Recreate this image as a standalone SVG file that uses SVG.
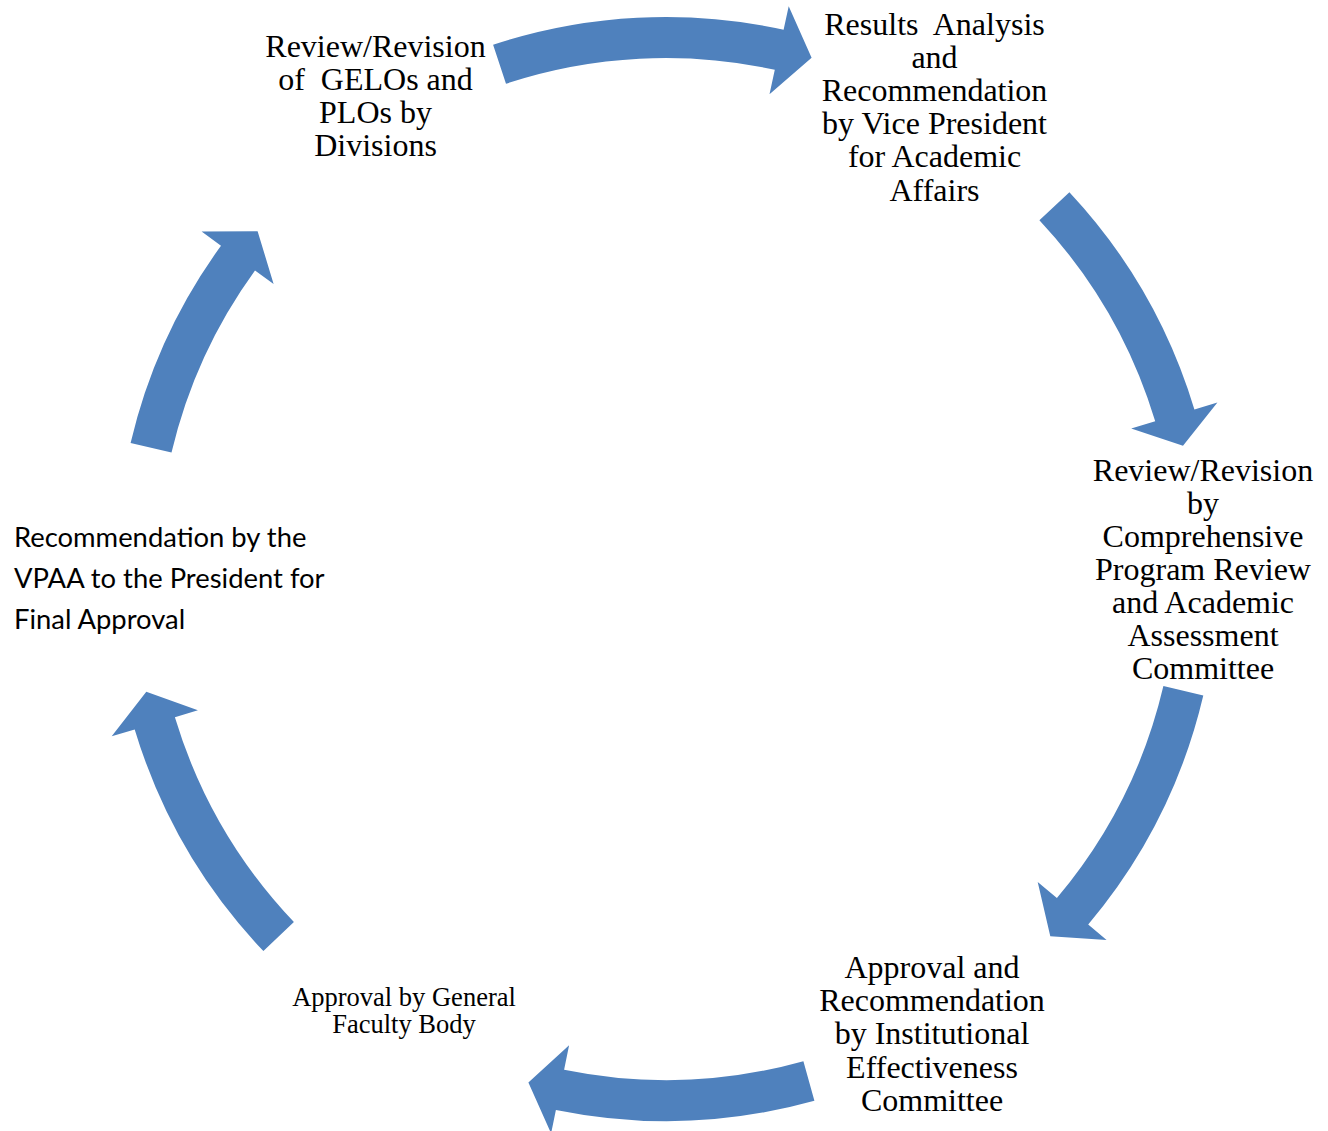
<svg xmlns="http://www.w3.org/2000/svg" width="1328" height="1131" viewBox="0 0 1328 1131">
<style>
.arr{fill:#4F81BD;stroke:none}
.t{font-family:"Liberation Serif","Times New Roman",serif;font-size:32px;fill:#000;text-anchor:middle}
.s{font-family:"Liberation Serif","Times New Roman",serif;font-size:26.5px;fill:#000;text-anchor:middle}
.c{font-family:Lato,"Open Sans",sans-serif;font-size:27.4px;fill:#000}
</style>
<rect width="1328" height="1131" fill="#fff"/>
<g id="connectors">
<path class="arr" d="M493.1,44.8 A552,552 0 0 1 783.6,29.7 L788.7,6.2 L811.6,57.8 L769.5,94.2 L774.8,69.8 A511,511 0 0 0 506.0,83.7 Z"/>
<path class="arr" d="M1069.4,192.2 A552,552 0 0 1 1194.4,409.5 L1217.4,402.5 L1183.0,445.8 L1131.2,428.5 L1155.2,421.3 A511,511 0 0 0 1039.4,220.2 Z"/>
<path class="arr" d="M1203.3,695.5 A552,552 0 0 1 1088.2,924.5 L1106.6,940.0 L1050.3,936.2 L1037.7,882.0 L1056.9,898.1 A511,511 0 0 0 1163.4,686.1 Z"/>
<path class="arr" d="M814.4,1100.7 A552,552 0 0 1 555.9,1109.9 L551.1,1133.4 L528.4,1082.4 L569.1,1045.2 L564.1,1069.7 A511,511 0 0 0 803.4,1061.2 Z"/>
<path class="arr" d="M263.4,951.1 A555,555 0 0 1 134.7,729.4 L111.7,736.3 L146.3,691.8 L197.9,710.3 L174.9,717.3 A513,513 0 0 0 293.9,922.1 Z"/>
<path class="arr" d="M130.6,442.9 A550,550 0 0 1 221.0,245.7 L201.6,231.6 L257.6,231.2 L273.6,283.9 L255.0,270.4 A508,508 0 0 0 171.5,452.6 Z"/>
</g>
<g id="node1">
<text class="t" xml:space="preserve"><tspan x="375.5" y="57">Review/Revision</tspan><tspan x="375.5" y="90">of  GELOs and</tspan><tspan x="375.5" y="123">PLOs by</tspan><tspan x="375.5" y="156">Divisions</tspan></text>
</g>
<g id="node2">
<text class="t" xml:space="preserve"><tspan x="934.5" y="34.5">Results  Analysis</tspan><tspan x="934.5" y="67.5">and</tspan><tspan x="934.5" y="100.7">Recommendation</tspan><tspan x="934.5" y="134">by Vice President</tspan><tspan x="934.5" y="167.3">for Academic</tspan><tspan x="934.5" y="200.5">Affairs</tspan></text>
</g>
<g id="node3">
<text class="t"><tspan x="1203" y="480.5">Review/Revision</tspan><tspan x="1203" y="513.5">by</tspan><tspan x="1203" y="546.5">Comprehensive</tspan><tspan x="1203" y="579.5">Program Review</tspan><tspan x="1203" y="613">and Academic</tspan><tspan x="1203" y="646">Assessment</tspan><tspan x="1203" y="679">Committee</tspan></text>
</g>
<g id="node4">
<text class="t"><tspan x="932" y="978">Approval and</tspan><tspan x="932" y="1011">Recommendation</tspan><tspan x="932" y="1044.3">by Institutional</tspan><tspan x="932" y="1077.5">Effectiveness</tspan><tspan x="932" y="1110.8">Committee</tspan></text>
</g>
<g id="node5">
<text class="s"><tspan x="404" y="1006">Approval by General</tspan><tspan x="404" y="1033">Faculty Body</tspan></text>
</g>
<g id="node6">
<text class="c"><tspan x="14" y="546.5">Recommendation by the</tspan><tspan x="14" y="588">VPAA to the President for</tspan><tspan x="14" y="629">Final Approval</tspan></text>
</g>
</svg>
